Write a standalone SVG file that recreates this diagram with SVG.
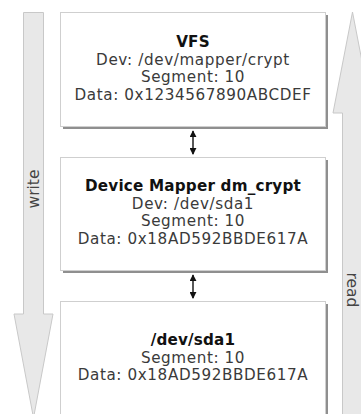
<svg xmlns="http://www.w3.org/2000/svg" width="361" height="414" viewBox="0 0 361 414">
<defs>
<style>
.bg{fill:#ffffff}
.big{fill:#e8e8e8;stroke:#c8c8c8;stroke-width:1}
.box{fill:#ffffff;stroke:#cfcfcf;stroke-width:1}
.shadow{fill:#8f8f8f}
.t{font-family:"DejaVu Sans",Verdana,sans-serif;font-size:15.2px;letter-spacing:0.6px;fill:#3a3a3a;text-anchor:middle}
.b{font-weight:bold;letter-spacing:0.2px;fill:#111111}
.lab{font-family:"DejaVu Sans",Verdana,sans-serif;font-size:15.5px;fill:#444444;text-anchor:middle}
.conn{stroke:#111111;stroke-width:1.4;fill:none}
</style>
<marker id="ah" viewBox="0 0 8 8" refX="7" refY="4" markerWidth="7" markerHeight="7" orient="auto-start-reverse" markerUnits="userSpaceOnUse">
<path d="M0,0 L8,4 L0,8 Z" fill="#111111"/>
</marker>
</defs>
<rect class="bg" x="0" y="0" width="361" height="414"/>
<g id="write-arrow">
<path class="big" d="M23.5,12.5 H43.5 V314 H53 L33.5,418 L14,314 H23.5 Z"/>
<text class="lab" transform="translate(38.5,189) rotate(-90)">write</text>
</g>
<g id="read-arrow">
<path class="big" d="M352.5,12 L372,113 H363 V420 H342.5 V113 H333 Z"/>
<text class="lab" transform="translate(347,290) rotate(90)">read</text>
</g>
<g id="connectors">
<line class="conn" x1="193" y1="131" x2="193" y2="154" marker-start="url(#ah)" marker-end="url(#ah)"/>
<line class="conn" x1="193" y1="275" x2="193" y2="298" marker-start="url(#ah)" marker-end="url(#ah)"/>
</g>
<g id="vfs">
<rect class="shadow" x="63" y="15" width="265" height="114"/>
<rect class="box" x="60.5" y="12.5" width="265" height="114"/>
<text class="t b" x="193" y="47">VFS</text>
<text class="t" x="193" y="64.7">Dev: /dev/mapper/crypt</text>
<text class="t" x="193" y="82.4">Segment: 10</text>
<text class="t" x="193" y="100.1">Data: 0x1234567890ABCDEF</text>
</g>
<g id="dm-crypt">
<rect class="shadow" x="63" y="160" width="265" height="113"/>
<rect class="box" x="60.5" y="157.5" width="265" height="113"/>
<text class="t b" x="193" y="191">Device Mapper dm_crypt</text>
<text class="t" x="193" y="208.7">Dev: /dev/sda1</text>
<text class="t" x="193" y="226.4">Segment: 10</text>
<text class="t" x="193" y="244.1">Data: 0x18AD592BBDE617A</text>
</g>
<g id="sda1">
<rect class="shadow" x="63" y="304" width="265" height="120"/>
<rect class="box" x="60.5" y="301.5" width="265" height="120"/>
<text class="t b" x="193" y="345">/dev/sda1</text>
<text class="t" x="193" y="362.7">Segment: 10</text>
<text class="t" x="193" y="380.4">Data: 0x18AD592BBDE617A</text>
</g>
</svg>
